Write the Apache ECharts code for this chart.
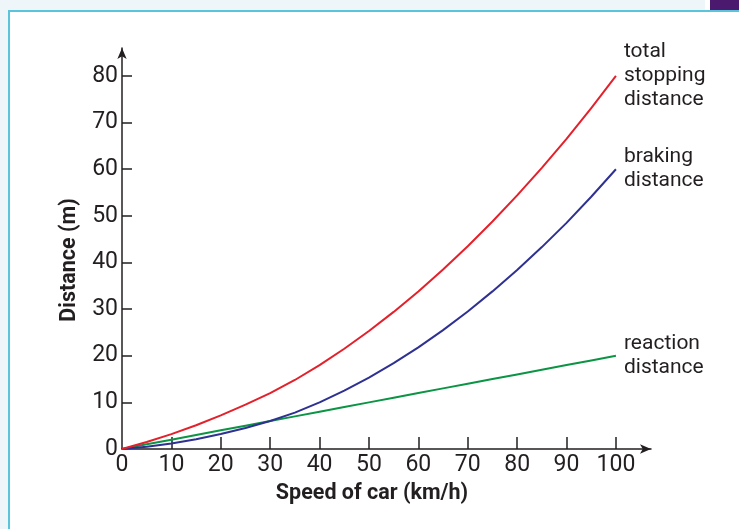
<!DOCTYPE html>
<html>
<head>
<meta charset="utf-8">
<script src="https://cdn.jsdelivr.net/npm/echarts@6/dist/echarts.min.js"></script>
<style>
  html, body { margin: 0; padding: 0; background: #fff; }
  #chart { width: 739px; height: 529px; }
</style>
</head>
<body>
<div id="chart"></div>
<script>
// speed of car (km/h)
const speeds = [0, 5, 10, 15, 20, 25, 30, 35, 40, 45, 50, 55, 60, 65, 70, 75, 80, 85, 90, 95, 100];
// distances (m)
const reaction = [0, 1, 2, 3, 4, 5, 6, 7, 8, 9, 10, 11, 12, 13, 14, 15, 16, 17, 18, 19, 20];
const braking = [0, 0.5, 1.2, 2.1, 3.2, 4.5, 6.0, 7.8, 10.0, 12.5, 15.3, 18.4, 21.8, 25.5, 29.5, 33.8, 38.4, 43.3, 48.5, 54.1, 60];
const total = [0, 1.5, 3.2, 5.1, 7.2, 9.5, 12.0, 14.8, 18.0, 21.5, 25.3, 29.4, 33.8, 38.5, 43.5, 48.8, 54.4, 60.3, 66.5, 73.1, 80];
const xTicks = [10, 20, 30, 40, 50, 60, 70, 80, 90, 100];
const xLabels = [0, 10, 20, 30, 40, 50, 60, 70, 80, 90, 100];
const yTicks = [10, 20, 30, 40, 50, 60, 70, 80];
const yLabels = [0, 10, 20, 30, 40, 50, 60, 70, 80];

const font = "Roboto, 'Liberation Sans', sans-serif";
const ink = "#231f20";

const pairs = arr => speeds.map((s, i) => [s, arr[i]]);

const chart = echarts.init(document.getElementById("chart"));

const endLabel = text => ({
  show: true,
  formatter: text,
  distance: 8,
  color: ink,
  fontFamily: font,
  fontSize: 21,
  lineHeight: 24
});

const lineSeries = (name, data, color, label) => ({
  name: name,
  type: "line",
  data: pairs(data),
  smooth: false,
  symbol: "none",
  lineStyle: { color: color, width: 2, join: "round" },
  endLabel: endLabel(label),
  z: 3
});

chart.setOption({
  animation: false,
  backgroundColor: "#fff",
  grid: { left: 122, top: 48, width: 529, height: 401 },
  xAxis: {
    type: "value",
    min: 0,
    max: 107.1,
    splitLine: { show: false },
    axisLine: {
      onZero: false,
      symbol: ["none", "arrow"],
      symbolSize: [7, 11],
      lineStyle: { color: ink, width: 1.5 }
    },
    axisTick: {
      inside: true,
      length: 12,
      customValues: xTicks,
      lineStyle: { color: ink, width: 1.5 }
    },
    axisLabel: {
      customValues: xLabels,
      margin: 5,
      color: ink,
      fontFamily: font,
      fontSize: 23
    }
  },
  yAxis: {
    type: "value",
    min: 0,
    max: 86,
    splitLine: { show: false },
    axisLine: {
      onZero: false,
      symbol: ["none", "arrow"],
      symbolSize: [7, 11],
      lineStyle: { color: ink, width: 1.5 }
    },
    axisTick: {
      inside: true,
      length: 10,
      customValues: yTicks,
      lineStyle: { color: ink, width: 1.5 }
    },
    axisLabel: {
      customValues: yLabels,
      margin: 4,
      color: ink,
      fontFamily: font,
      fontSize: 23
    }
  },
  series: [
    lineSeries("reaction", reaction, "#0b9444", "reaction\ndistance"),
    lineSeries("braking", braking, "#2e3192", "braking\ndistance"),
    lineSeries("total", total, "#e4202a", "total\nstopping\ndistance")
  ],
  graphic: [
    // page frame
    { type: "rect", shape: { x: 0, y: 0, width: 705, height: 10 }, style: { fill: "#eef6f9" }, silent: true },
    { type: "rect", shape: { x: 0, y: 0, width: 8, height: 529 }, style: { fill: "#eef6f9" }, silent: true },
    { type: "rect", shape: { x: 710, y: 0, width: 29, height: 10 }, style: { fill: "#4b1a6e" }, silent: true },
    { type: "rect", shape: { x: 8, y: 10, width: 731, height: 2 }, style: { fill: "#5bc4dd" }, silent: true },
    { type: "rect", shape: { x: 8, y: 10, width: 2, height: 519 }, style: { fill: "#5bc4dd" }, silent: true },
    // axis titles
    {
      type: "text",
      x: 372,
      y: 494,
      style: {
        text: "Speed of car (km/h)",
        fontFamily: font,
        fontWeight: "bold",
        fontSize: 21.5,
        fill: ink,
        align: "center",
        verticalAlign: "middle"
      }
    },
    {
      type: "text",
      x: 70,
      y: 260,
      rotation: Math.PI / 2,
      style: {
        text: "Distance (m)",
        fontFamily: font,
        fontWeight: "bold",
        fontSize: 21.5,
        fill: ink,
        align: "center",
        verticalAlign: "middle"
      }
    }
  ]
});
</script>
</body>
</html>
